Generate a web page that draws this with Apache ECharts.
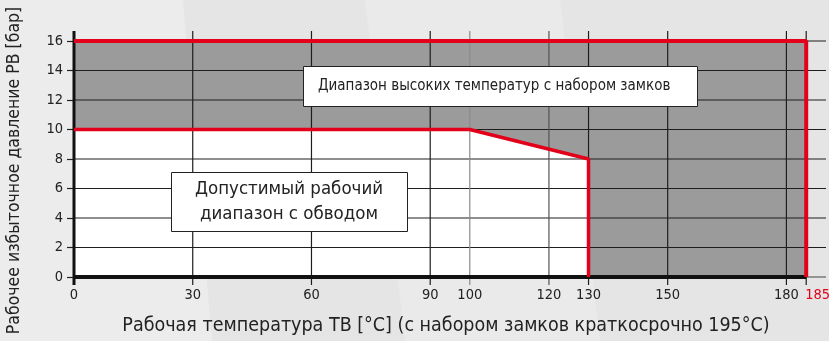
<!DOCTYPE html>
<html>
<head>
<meta charset="utf-8">
<script src="https://cdn.jsdelivr.net/npm/echarts@6/dist/echarts.min.js"></script>
<style>
  html, body { margin: 0; padding: 0; background: #e7e7e7; }
  #chart { width: 829px; height: 341px; }
</style>
</head>
<body>
<div id="chart"></div>
<script>
// Temperature ticks (°C) and pressure ticks (bar)
const tempTicks = [0, 30, 60, 90, 100, 120, 130, 150, 180, 185];
const pressureTicks = [0, 2, 4, 6, 8, 10, 12, 14, 16];

// Outer high-temperature envelope (with lock set)
const highRangeTemp = [0, 185, 185];
const highRangePressure = [16, 16, 0];

// Permitted working range with bypass
const bypassTemp = [0, 0, 100, 130, 130];
const bypassPressure = [0, 10, 10, 8, 0];

const tempMax = 185;
const pressureMax = 16;
const axisEnd = 190;

const FONT = "'DejaVu Sans Condensed', 'Liberation Sans Narrow', Roboto, sans-serif";
const RED = '#e2001a';
const INK = '#222';
const LABEL_SIZE = 14.5;

const chart = echarts.init(document.getElementById('chart'));

const toPairs = (xs, ys) => xs.map((x, i) => [x, ys[i]]);

// Shade behind the diagram: gray envelope with the white permitted area on top
function renderAreas(params, api) {
  const envelope = [[0, 0], [0, pressureMax], [tempMax, pressureMax], [tempMax, 0]].map(p => api.coord(p));
  const allowed = toPairs(bypassTemp, bypassPressure).map(p => api.coord(p));
  return {
    type: 'group',
    children: [
      { type: 'polygon', shape: { points: envelope }, style: { fill: '#9a9b9a' } },
      { type: 'polygon', shape: { points: allowed }, style: { fill: '#ffffff' } }
    ]
  };
}

// Grid lines drawn over the shaded areas, with their overhangs, plus temperature labels
function renderGrid(params, api) {
  const children = [];
  pressureTicks.forEach(v => {
    if (v === 0) return;
    const a = api.coord([0, v]);
    const b = api.coord([axisEnd, v]);
    children.push({ type: 'line', shape: { x1: a[0], y1: a[1], x2: b[0], y2: b[1] },
      style: { stroke: '#1e1e1e', lineWidth: 1.2 } });
  });
  const zeroA = api.coord([tempMax, 0]);
  const zeroB = api.coord([axisEnd, 0]);
  children.push({ type: 'line', shape: { x1: zeroA[0], y1: zeroA[1], x2: zeroB[0], y2: zeroB[1] },
    style: { stroke: '#444', lineWidth: 1 } });
  tempTicks.forEach(v => {
    const bottom = api.coord([v, 0]);
    const top = api.coord([v, pressureMax]);
    if (v !== 0) {
      let color = '#1e1e1e';
      if (v === 100) color = '#8a8a8a';
      if (v === 120) color = '#555';
      children.push({ type: 'line', shape: { x1: bottom[0], y1: bottom[1] + 8, x2: top[0], y2: top[1] - 10 },
        style: { stroke: color, lineWidth: 1.2 } });
    }
    // Tick label; the end value is red and set to the right of its tick
    const isEnd = v === tempMax;
    children.push({ type: 'text', x: isEnd ? bottom[0] - 1 : bottom[0], y: bottom[1] + 11,
      style: { text: String(v), fill: isEnd ? RED : INK, fontSize: LABEL_SIZE, fontFamily: FONT,
        align: isEnd ? 'left' : 'center', verticalAlign: 'top' } });
  });
  // Thick axis lines
  const o = api.coord([0, 0]);
  const yTop = api.coord([0, pressureMax]);
  const xEnd = api.coord([tempMax, 0]);
  children.push({ type: 'line', shape: { x1: o[0], y1: o[1] + 8, x2: yTop[0], y2: yTop[1] - 10 },
    style: { stroke: '#111', lineWidth: 3 } });
  children.push({ type: 'line', shape: { x1: o[0] - 1, y1: o[1], x2: xEnd[0], y2: xEnd[1] },
    style: { stroke: '#111', lineWidth: 4 } });
  return { type: 'group', children };
}

const option = {
  animation: false,
  backgroundColor: '#e5e5e5',
  textStyle: { fontFamily: FONT },
  grid: { left: 74, right: 3, top: 41, bottom: 62 },
  graphic: [
    // Soft diagonal bands in the backdrop
    { type: 'polygon', z: -10, silent: true,
      shape: { points: [[0, 0], [183, 0], [212, 341], [0, 341]] }, style: { fill: '#ececec' } },
    { type: 'polygon', z: -10, silent: true,
      shape: { points: [[365, 0], [560, 0], [600, 341], [405, 341]] }, style: { fill: '#eaeaea' } },
    // Y-axis title
    { type: 'text', z: 10, left: 5, top: 'middle', rotation: Math.PI / 2,
      style: { text: 'Рабочее избыточное давление PB [бар]', fill: INK, fontSize: 17.5, fontFamily: FONT } },
    // Annotation: high-temperature range
    { type: 'rect', z: 10, shape: { x: 303.5, y: 66.5, width: 394, height: 40 },
      style: { fill: '#fff', stroke: INK, lineWidth: 1 } },
    { type: 'text', z: 11, x: 318, y: 86,
      style: { text: 'Диапазон высоких температур с набором замков', fill: INK, fontSize: 15,
        fontFamily: FONT, verticalAlign: 'middle' } },
    // Annotation: permitted working range
    { type: 'rect', z: 10, shape: { x: 171.5, y: 172.5, width: 236, height: 59 },
      style: { fill: '#fff', stroke: INK, lineWidth: 1 } },
    { type: 'text', z: 11, x: 289, y: 202,
      style: { text: 'Допустимый рабочий\nдиапазон с обводом', fill: INK, fontSize: 18.5, lineHeight: 25,
        fontFamily: FONT, align: 'center', verticalAlign: 'middle' } }
  ],
  xAxis: {
    type: 'value', min: 0, max: axisEnd,
    name: 'Рабочая температура ТВ [°C] (с набором замков краткосрочно 195°C)',
    nameLocation: 'middle', nameGap: 39,
    nameTextStyle: { color: INK, fontSize: 19.5, fontFamily: FONT, padding: [0, 8, 0, 0] },
    axisLine: { show: false },
    axisTick: { show: false },
    splitLine: { show: false },
    axisLabel: { show: false }
  },
  yAxis: {
    type: 'value', min: 0, max: pressureMax, interval: 2,
    axisLine: { show: false },
    axisTick: { show: true, length: 7, lineStyle: { color: INK, width: 1.2 } },
    splitLine: { show: false },
    axisLabel: { margin: 11, color: INK, fontSize: LABEL_SIZE, fontFamily: FONT }
  },
  series: [
    { type: 'custom', z: 1, clip: false, renderItem: renderAreas, data: [[0, 0]], silent: true },
    { type: 'custom', z: 2, clip: false, renderItem: renderGrid, data: [[0, 0]], silent: true },
    { type: 'line', z: 3, data: toPairs(highRangeTemp, highRangePressure), symbol: 'none',
      lineStyle: { color: RED, width: 4 }, silent: true },
    { type: 'line', z: 3, data: toPairs(bypassTemp.slice(1), bypassPressure.slice(1)), symbol: 'none',
      lineStyle: { color: RED, width: 3.5 }, silent: true }
  ]
};

chart.setOption(option);
</script>
</body>
</html>
